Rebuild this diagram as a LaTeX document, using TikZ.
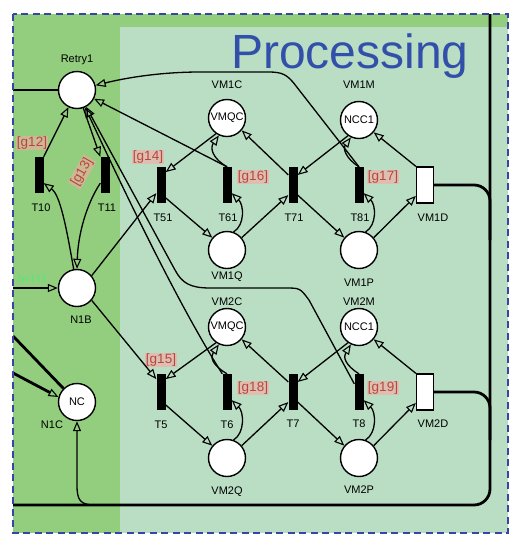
\documentclass[tikz,border=0pt]{standalone}
\usepackage{fontspec}
\setmainfont{Liberation Sans}
\usetikzlibrary{arrows.meta}
\definecolor{dkgreen}{RGB}{146,206,126}
\definecolor{ltgreen}{RGB}{186,222,196}
\definecolor{bord}{RGB}{55,70,165}
\definecolor{proc}{RGB}{50,80,170}
\definecolor{gtext}{RGB}{185,70,60}
\definecolor{gfill}{RGB}{245,170,165}
\definecolor{gelf}{RGB}{80,235,120}
\begin{document}
\begin{tikzpicture}[x=1pt,y=-1pt,
 place/.style={circle,draw,fill=white,line width=1.4pt,minimum size=37pt,inner sep=0pt,font=\fontsize{11}{12}\selectfont},
 trans/.style={rectangle,fill=black,minimum width=9pt,minimum height=36pt,inner sep=0pt},
 dtrans/.style={rectangle,draw,fill=white,line width=1.3pt,minimum width=17pt,minimum height=36pt,inner sep=0pt},
 lbl/.style={font=\fontsize{11}{12}\selectfont,inner sep=0pt},
 guard/.style={font=\fontsize{13.5}{15}\selectfont,text=gtext,fill=gfill,fill opacity=0.6,text opacity=1,inner sep=1pt},
 tip/.style={-{Triangle[open,length=10pt,width=8pt,line width=1.1pt]}},
 arc/.style={line width=1.3pt,tip},
 thk/.style={line width=2.8pt},
]
\useasboundingbox (0,0) rectangle (528,550);
\fill[white] (0,0) rectangle (528,550);
\fill[dkgreen] (13,14) rectangle (508,533);
\fill[ltgreen] (120,27) rectangle (508,533);
\node[font=\fontsize{48}{50}\selectfont,text=proc,anchor=base,inner sep=0pt] (title) at (350,68) {Processing};

% guard partly hidden
\begin{scope}
\clip (13,266) rectangle (60,281);
\node[font=\fontsize{13}{15}\selectfont,text=gelf,inner sep=0pt] (g11) at (32,281) {[g11]};
\end{scope}

% nodes
\node[place] (R) at (77,90) {};
\node[lbl] (Rl) at (77,60) {Retry1};
\node[trans] (T10) at (39,175) {};
\node[trans] (T11) at (105,175) {};
\node[lbl] (T10l) at (41,208) {T10};
\node[lbl] (T11l) at (107,208) {T11};
\node[place] (N1B) at (77,288) {};
\node[lbl] (N1Bl) at (81,320) {N1B};
\node[place] (NC) at (77,402) {NC};
\node[lbl] (NCl) at (52,425) {N1C};

\node[trans] (T51) at (161,185) {};
\node[trans] (T61) at (227,185) {};
\node[trans] (T71) at (293,185) {};
\node[trans] (T81) at (359,185) {};
\node[dtrans] (VM1D) at (425,185) {};
\node[place] (VM1C) at (227,118) {VMQC};
\node[place] (VM1Q) at (227,250) {};
\node[place] (VM1M) at (359,120) {NCC1};
\node[place] (VM1P) at (359,250) {};
\node[lbl] at (163,218) {T51};
\node[lbl] at (228,218) {T61};
\node[lbl] at (294,218) {T71};
\node[lbl] at (360,218) {T81};
\node[lbl] at (433,218) {VM1D};
\node[lbl] at (227,85) {VM1C};
\node[lbl] at (359,85) {VM1M};
\node[lbl] at (227,277) {VM1Q};
\node[lbl] at (359,283) {VM1P};

\node[trans] (T5) at (161,392) {};
\node[trans] (T6) at (227,392) {};
\node[trans] (T7) at (293,392) {};
\node[trans] (T8) at (359,392) {};
\node[dtrans] (VM2D) at (425,392) {};
\node[place] (VM2C) at (227,327) {VMQC};
\node[place] (VM2Q) at (227,458) {};
\node[place] (VM2M) at (359,327) {NCC1};
\node[place] (VM2P) at (359,458) {};
\node[lbl] at (161,425) {T5};
\node[lbl] at (227,425) {T6};
\node[lbl] at (293,424) {T7};
\node[lbl] at (359,424) {T8};
\node[lbl] at (433,424) {VM2D};
\node[lbl] at (227,302) {VM2C};
\node[lbl] at (359,302) {VM2M};
\node[lbl] at (227,492) {VM2Q};
\node[lbl] at (359,490) {VM2P};

% guards
\node[guard] at (32,143) {[g12]};
\node[guard,rotate=60] at (82,172) {[g13]};
\node[guard] at (148,157) {[g14]};
\node[guard] at (253,177) {[g16]};
\node[guard] at (383,177) {[g17]};
\node[guard] at (161,360) {[g15]};
\node[guard] at (253,388) {[g18]};
\node[guard] at (383,388) {[g19]};

% thick lines
\draw[thk] (13,90) -- (R.west);
\draw[thk,tip] (13,288) -- (N1B.west);
\draw[thk] (13,336) -- (NC.135);
\draw[thk,tip] (13,373) -- (NC.165);
\draw[thk,rounded corners=16pt] (490,14) -- (490,505) -- (13,505);
\draw[thk,rounded corners=16pt] (VM1D.east) -- (490,185) -- (490,240);
\draw[thk,rounded corners=16pt] (VM2D.east) -- (490,392) -- (490,440);
\draw[arc] (95,505) .. controls (80,505) and (77,500) .. (77,485) -- (NC.south);

% left arcs
\draw[arc] (T10.north east) -- (R);
\draw[arc] (R) -- (T11.north west);
\draw[arc] (N1B.100) .. controls (66,225) and (60,195) .. (T10.-60);
\draw[arc] (T11.240) .. controls (86,205) and (78,235) .. (N1B.north);
\draw[arc] (N1B.40) -- (T51.240);
\draw[arc] (N1B.-40) -- (T5.110);
\draw[arc] (T61.north) -- (R);
\draw[arc] (T6.north west) .. controls (185,315) and (140,225) .. (R);
\draw[arc] (T8.120) -- (309,300) .. controls (300,288) .. (285,288) -- (210,288) .. controls (190,288) and (182,283) .. (175,270) -- (R);
\draw[arc] (T81.north) -- (296,86) .. controls (287,74) and (282,72) .. (268,72) -- (200,72) .. controls (160,72) and (125,78) .. (R);

% upper subnet
\draw[arc] (VM1C.-125) -- (T51.70);
\draw[arc] (T51.-70) -- (VM1Q.140);
\draw[arc] (VM1Q.70) .. controls (245,225) and (244,205) .. (T61.-60);
\draw[arc] (T61.north) .. controls (212,158) and (210,148) .. (VM1C.-115);
\draw[arc] (VM1Q.40) -- (T71.-115);
\draw[arc] (T71.115) -- (VM1C.-40);
\draw[arc] (VM1M.-125) -- (T71.65);
\draw[arc] (T71.-65) -- (VM1P.140);
\draw[arc] (VM1P.70) .. controls (377,225) and (376,205) .. (T81.-60);
\draw[arc] (T81.north) .. controls (345,158) and (343,148) .. (VM1M.-115);
\draw[arc] (VM1P.40) -- (VM1D.230);
\draw[arc] (VM1D.north west) -- (VM1M.-40);

% lower subnet
\draw[arc] (VM2C.-125) -- (T5.70);
\draw[arc] (T5.-70) -- (VM2Q.140);
\draw[arc] (VM2Q.70) .. controls (245,433) and (244,412) .. (T6.-60);
\draw[arc] (T6.north) .. controls (212,365) and (210,357) .. (VM2C.-115);
\draw[arc] (VM2Q.40) -- (T7.-115);
\draw[arc] (T7.115) -- (VM2C.-40);
\draw[arc] (VM2M.-125) -- (T7.65);
\draw[arc] (T7.-65) -- (VM2P.140);
\draw[arc] (VM2P.70) .. controls (377,433) and (376,412) .. (T8.-60);
\draw[arc] (T8.north) .. controls (345,365) and (343,357) .. (VM2M.-115);
\draw[arc] (VM2P.40) -- (VM2D.230);
\draw[arc] (VM2D.north west) -- (VM2M.-40);

\draw[bord,dash pattern=on 7pt off 4.5pt,line width=2.5pt] (13,14) rectangle (508,533);
\end{tikzpicture}
\end{document}
